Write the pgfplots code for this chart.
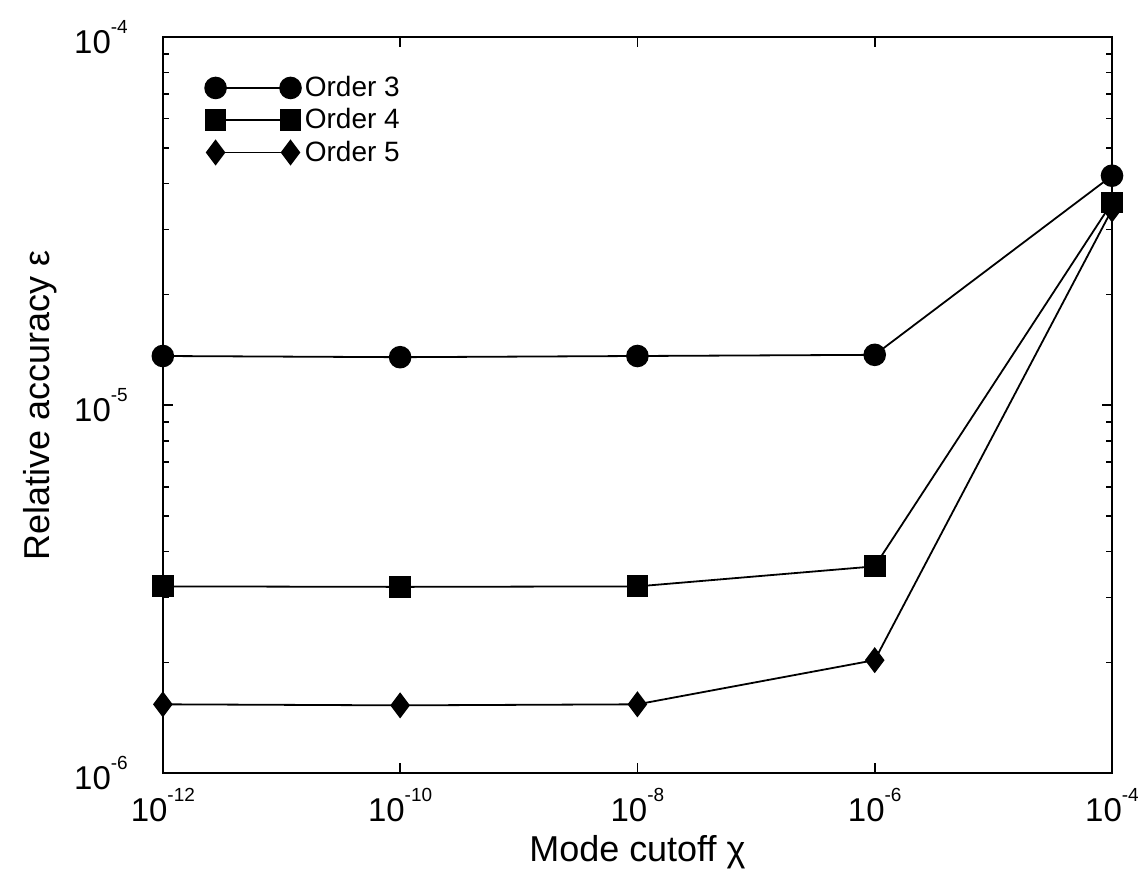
\documentclass[border=0pt]{standalone}
\usepackage{fontspec}
\setmainfont{Liberation Sans}
\usepackage{pgfplots}
\pgfplotsset{compat=1.18}
\newcommand{\tp}[1]{10\raisebox{10pt}{\fontsize{9.5}{10}\selectfont #1}}
\begin{document}
\begin{tikzpicture}[x=1pt,y=1pt]
\useasboundingbox (-81.5,-52) rectangle (488.5,387);
\begin{axis}[
  name=ax,
  at={(0,0)}, anchor=south west,
  scale only axis,
  width=475pt, height=368.5pt,
  xmode=log, ymode=log,
  xmin=1e-12, xmax=1e-4,
  ymin=1e-6, ymax=1e-4,
  xtick={1e-12,1e-10,1e-8,1e-6,1e-4},
  xticklabels={\tp{-12},\tp{-10},\tp{-8},\tp{-6},\tp{-4}},
  ytick={1e-6,1e-5,1e-4},
  yticklabels={\tp{-6},\tp{-5},\tp{-4}},
  minor xtick={},
  tick align=inside,
  major tick length=5pt,
  minor tick length=3pt,
  every tick/.style={black, line width=0.8pt},
  axis line style={line width=1pt},
  tick label style={font=\fontsize{16.5}{19}\selectfont},
  xticklabel style={yshift=-4pt},
  yticklabel style={xshift=-14pt},
  xlabel={Mode cutoff χ},
  ylabel={Relative accuracy ε},
  label style={font=\fontsize{18}{21}\selectfont},
  xlabel style={yshift=0pt},
  ylabel style={yshift=2pt},
  legend style={draw=none, fill=none, at={(0.04,0.958)}, anchor=north west,
    font=\fontsize{14}{16}\selectfont, row sep=0.5pt, inner sep=2pt},
  legend cell align=left,
  legend image code/.code={%
    \draw[#1] plot coordinates {(0pt,0pt) (37.5pt,0pt)};
  },
]
\addplot[black, line width=0.9pt, mark=*, mark size=5.2pt, mark options={solid, fill=black}] coordinates {
 (1e-12,1.36e-5) (1e-10,1.35e-5) (1e-8,1.36e-5) (1e-6,1.37e-5) (1e-4,4.2e-5)};
\addlegendentry{Order 3}
\addplot[black, line width=0.9pt, mark=square*, mark size=5pt, mark options={solid, fill=black}] coordinates {
 (1e-12,3.22e-6) (1e-10,3.21e-6) (1e-8,3.22e-6) (1e-6,3.65e-6) (1e-4,3.55e-5)};
\addlegendentry{Order 4}
\addplot[black, line width=0.9pt, mark=diamond*, mark size=5.8pt, mark options={solid, fill=black}] coordinates {
 (1e-12,1.54e-6) (1e-10,1.53e-6) (1e-8,1.54e-6) (1e-6,2.03e-6) (1e-4,3.4e-5)};
\addlegendentry{Order 5}
\end{axis}
\end{tikzpicture}
\end{document}
